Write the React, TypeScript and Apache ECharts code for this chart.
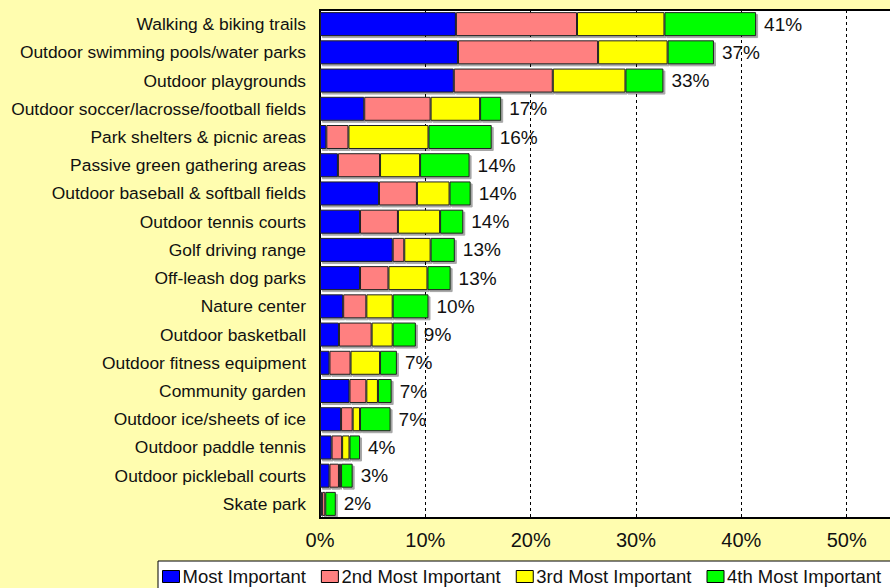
import React, { useEffect, useRef } from "react";
import * as echarts from "echarts";

const categories = [
  "Walking & biking trails",
  "Outdoor swimming pools/water parks",
  "Outdoor playgrounds",
  "Outdoor soccer/lacrosse/football fields",
  "Park shelters & picnic areas",
  "Passive green gathering areas",
  "Outdoor baseball & softball fields",
  "Outdoor tennis courts",
  "Golf driving range",
  "Off-leash dog parks",
  "Nature center",
  "Outdoor basketball",
  "Outdoor fitness equipment",
  "Community garden",
  "Outdoor ice/sheets of ice",
  "Outdoor paddle tennis",
  "Outdoor pickleball courts",
  "Skate park",
];

const mostImportant = [12.9, 13.1, 12.7, 4.2, 0.6, 1.7, 5.6, 3.8, 6.9, 3.8, 2.2, 1.8, 0.9, 2.8, 2.0, 1.1, 0.9, 0.2];
const secondMost = [11.5, 13.3, 9.4, 6.3, 2.1, 4.0, 3.6, 3.6, 1.1, 2.7, 2.2, 3.1, 2.0, 1.6, 1.1, 1.0, 0.9, 0.3];
const thirdMost = [8.3, 6.6, 6.9, 4.7, 7.6, 3.8, 3.1, 4.0, 2.5, 3.7, 2.5, 2.0, 2.8, 1.1, 0.7, 0.7, 0.2, 0.0];
const fourthMost = [8.7, 4.4, 3.6, 2.0, 6.0, 4.7, 2.0, 2.2, 2.3, 2.2, 3.4, 2.2, 1.6, 1.3, 2.9, 1.0, 1.1, 1.0];
const totalLabels = ["41%", "37%", "33%", "17%", "16%", "14%", "14%", "14%", "13%", "13%", "10%", "9%", "7%", "7%", "7%", "4%", "3%", "2%"];

const seriesNames = ["Most Important", "2nd Most Important", "3rd Most Important", "4th Most Important"];
const seriesColors = ["#0000FF", "#FF8080", "#FFFF00", "#00FF00"];
const xTicks = [0, 10, 20, 30, 40, 50, 60];

const FONT = 'Arial, "Liberation Sans", sans-serif';

export default function App() {
  const ref = useRef<HTMLDivElement>(null);
  useEffect(() => {
    if (!ref.current) return;
    const chart = echarts.init(ref.current, undefined, { renderer: "svg" });
    const seriesData = [mostImportant, secondMost, thirdMost, fourthMost];
    chart.setOption({
      animation: false,
      backgroundColor: "#FFFDAF",
      textStyle: { fontFamily: FONT },
      grid: {
        left: 320,
        top: 10,
        width: 632,
        height: 508,
        containLabel: false,
        outerBoundsMode: "none",
        show: true,
        backgroundColor: "#FFFFFF",
        borderColor: "#000000",
        borderWidth: 2,
      },
      xAxis: {
        type: "value",
        min: xTicks[0],
        max: xTicks[xTicks.length - 1],
        interval: 10,
        axisLine: { show: true, lineStyle: { color: "#000", width: 2 } },
        axisTick: { show: false },
        axisLabel: {
          formatter: (v: number) => (v <= 50 ? v + "%" : ""),
          fontSize: 20,
          color: "#111",
          margin: 12,
          fontFamily: FONT,
        },
        splitLine: { show: true, lineStyle: { color: "#000", type: [3, 3], width: 1 } },
      },
      yAxis: {
        type: "category",
        data: categories,
        inverse: true,
        axisLine: { show: true, lineStyle: { color: "#000", width: 2 } },
        axisTick: { show: false },
        axisLabel: { fontSize: 17.4, color: "#111", margin: 14, fontFamily: FONT },
      },
      legend: {
        left: 158,
        top: 561,
        width: 780,
        data: seriesNames,
        itemWidth: 17,
        itemHeight: 12,
        itemGap: 15,
        backgroundColor: "#FFFFFF",
        borderColor: "#000",
        borderWidth: 1,
        borderRadius: 0,
        padding: [6, 30, 8, 4],
        icon: "rect",
        itemStyle: { borderColor: "#000", borderWidth: 1, shadowBlur: 0, shadowColor: "transparent", shadowOffsetX: 0, shadowOffsetY: 0 },
        textStyle: { fontSize: 18.5, color: "#111", fontFamily: FONT, padding: [0, 0, 0, -2] },
      },
      series: seriesNames.map((name, i) => ({
        name,
        type: "bar",
        stack: "total",
        barCategoryGap: "15%",
        data: seriesData[i],
        itemStyle: {
          color: seriesColors[i],
          borderColor: "#222",
          borderWidth: 1,
          shadowColor: "rgba(0,0,0,0.35)",
          shadowOffsetX: 2,
          shadowOffsetY: 2,
          shadowBlur: 0,
        },
        label:
          i === 3
            ? {
                show: true,
                position: "right",
                distance: 8,
                fontSize: 19,
                color: "#111",
                fontFamily: FONT,
                formatter: (p: any) => totalLabels[p.dataIndex],
              }
            : { show: false },
      })),
    });
    return () => chart.dispose();
  }, []);
  return (
    <div
      ref={ref}
      style={{ position: "fixed", left: 0, top: 0, width: 890, height: 588 }}
    />
  );
}
